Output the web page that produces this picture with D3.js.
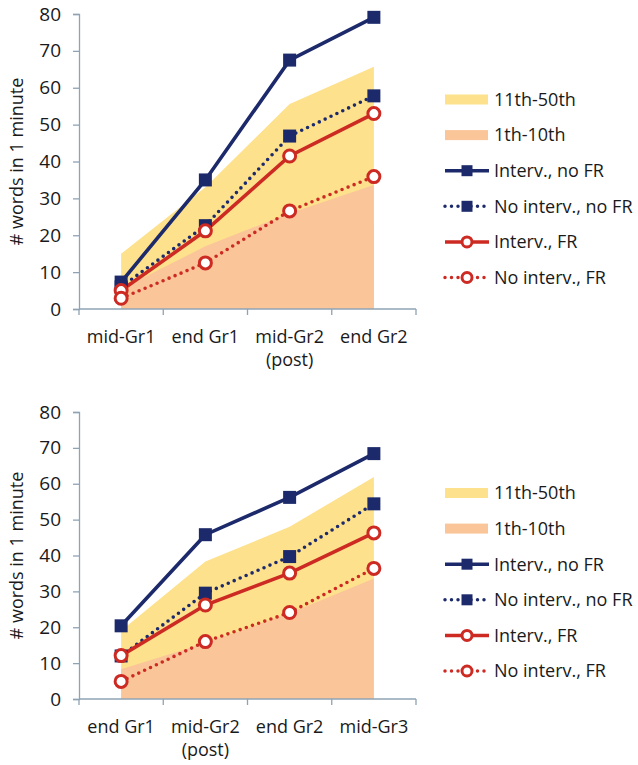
<!DOCTYPE html>
<html>
<head>
<meta charset="utf-8">
<script src="https://cdn.jsdelivr.net/npm/d3@7"></script>
<style>
  body { margin: 0; background: #fff; }
  svg text { font-family: "Open Sans", sans-serif; fill: #1a1a1a; }
</style>
</head>
<body>
<div id="main"></div>
<script>
// panel 1 data
var cats1 = [['mid-Gr1'], ['end Gr1'], ['mid-Gr2', '(post)'], ['end Gr2']];
var band1Top = [15, 33, 55.6, 65.7];     // 11th-50th upper edge
var band1Low = [5.5, 17, 26, 33.6];      // 1th-10th upper edge
var intervNoFR1 = [7.3, 35, 67.5, 79.1];
var noIntervNoFR1 = [6, 22.6, 46.9, 57.8];
var intervFR1 = [5, 21.2, 41.5, 53];
var noIntervFR1 = [2.9, 12.5, 26.6, 35.9];

// panel 2 data
var cats2 = [['end Gr1'], ['mid-Gr2', '(post)'], ['end Gr2'], ['mid-Gr3']];
var band2Top = [19, 38.3, 48, 61.9];
var band2Low = [8.3, 15.6, 23.9, 33.6];
var intervNoFR2 = [20.4, 45.8, 56.2, 68.4];
var noIntervNoFR2 = [12, 29.5, 39.7, 54.4];
var intervFR2 = [12.1, 26.2, 35.1, 46.3];
var noIntervFR2 = [4.9, 16, 24.1, 36.4];

var yTicks = [0, 10, 20, 30, 40, 50, 60, 70, 80];
var legendLabels = ['11th-50th', '1th-10th', 'Interv., no FR', 'No interv., no FR', 'Interv., FR', 'No interv., FR'];

var navy = '#1c2a6b', red = '#cc2a22', yellow = '#fde18c', orange = '#fbc59a', axisCol = '#8fa3b5';

var svg = d3.select('#main').append('svg')
    .attr('width', 638)
    .attr('height', 765);

function drawPanel(top, bottom, cats, bandTop, bandLow, series, legendTop) {
    var g = svg.append('g');
    var x = d3.scaleBand().domain(d3.range(cats.length)).range([79, 416]);
    var y = d3.scaleLinear().domain([0, 80]).range([bottom, top]);
    var cx = function (i) { return x(i) + x.bandwidth() / 2; };

    // bands (area from 0)
    var area = d3.area()
        .x(function (d, i) { return cx(i); })
        .y0(y(0))
        .y1(function (d) { return y(d); });
    g.append('path').attr('d', area(bandTop)).attr('fill', yellow);
    g.append('path').attr('d', area(bandLow)).attr('fill', orange);

    // axes
    var yAxis = d3.axisLeft(y).tickValues(yTicks).tickSize(6).tickPadding(12);
    var yG = g.append('g').attr('transform', 'translate(79,0)').call(yAxis);
    yG.select('.domain').attr('stroke', axisCol).attr('stroke-width', 1.3);
    yG.selectAll('.tick line').attr('stroke', axisCol).attr('stroke-width', 1.3);
    yG.selectAll('.tick text').attr('font-size', 19).attr('fill', '#1a1a1a')
        .style('font-family', '"Open Sans", sans-serif');

    var xG = g.append('g').attr('transform', 'translate(0,' + bottom + ')');
    xG.append('line').attr('x1', 79).attr('x2', 416)
        .attr('stroke', axisCol).attr('stroke-width', 1.3);
    xG.selectAll('.xt').data(d3.range(cats.length + 1)).enter().append('line')
        .attr('x1', function (d) { return d < cats.length ? x(d) : 416; })
        .attr('x2', function (d) { return d < cats.length ? x(d) : 416; })
        .attr('y1', 0).attr('y2', 6)
        .attr('stroke', axisCol).attr('stroke-width', 1.3);
    // each label line is its own text, so the two lines stay apart
    cats.forEach(function (lines, i) {
        lines.forEach(function (t, j) {
            xG.append('text')
                .attr('text-anchor', 'middle')
                .attr('font-size', 18)
                .attr('x', cx(i))
                .attr('y', 34 + j * 22.5)
                .text(t);
        });
    });

    // y title
    g.append('text')
        .attr('transform', 'translate(23,' + ((top + bottom) / 2) + ') rotate(-90)')
        .attr('text-anchor', 'middle')
        .attr('font-size', 18)
        .text('# words in 1 minute');

    // lines
    var line = d3.line()
        .x(function (d, i) { return cx(i); })
        .y(function (d) { return y(d); });
    series.forEach(function (s) {
        g.append('path').attr('d', line(s.values))
            .attr('fill', 'none')
            .attr('stroke', s.color)
            .attr('stroke-width', 3.6)
            .attr('stroke-linecap', s.dotted ? 'round' : 'butt')
            .attr('stroke-dasharray', s.dotted ? '0 6.5' : null);
    });
    series.forEach(function (s) {
        s.values.forEach(function (v, i) {
            drawMarker(g, s, cx(i), y(v), 13);
        });
    });

    // legend
    var items = [
        { type: 'rect', color: yellow },
        { type: 'rect', color: orange }
    ].concat(series.map(function (s) { return { type: 'line', s: s }; }));
    items.forEach(function (it, i) {
        var ly = legendTop + i * 35.6;
        if (it.type === 'rect') {
            g.append('rect').attr('x', 445).attr('y', ly - 5).attr('width', 43).attr('height', 10)
                .attr('fill', it.color);
        } else {
            g.append('line').attr('x1', 445).attr('x2', 489).attr('y1', ly).attr('y2', ly)
                .attr('stroke', it.s.color).attr('stroke-width', 3.5)
                .attr('stroke-linecap', it.s.dotted ? 'round' : 'butt')
                .attr('stroke-dasharray', it.s.dotted ? '0 6.5' : null);
            drawMarker(g, it.s, 467, ly, 11);
        }
        g.append('text').attr('x', 494).attr('y', ly).attr('dy', '0.35em')
            .attr('font-size', 18)
            .text(legendLabels[i]);
    });
}

function drawMarker(g, s, px, py, size) {
    if (s.marker === 'square') {
        g.append('rect').attr('x', px - size / 2).attr('y', py - size / 2)
            .attr('width', size).attr('height', size).attr('fill', s.color);
    } else {
        g.append('circle').attr('cx', px).attr('cy', py).attr('r', size / 2 - 0.5)
            .attr('fill', '#fff').attr('stroke', s.color).attr('stroke-width', 3);
    }
}

function makeSeries(a, b, c, d) {
    return [
        { values: a, color: navy, marker: 'square', dotted: false },
        { values: b, color: navy, marker: 'square', dotted: true },
        { values: c, color: red, marker: 'circle', dotted: false },
        { values: d, color: red, marker: 'circle', dotted: true }
    ];
}

drawPanel(14, 309, cats1, band1Top, band1Low,
    makeSeries(intervNoFR1, noIntervNoFR1, intervFR1, noIntervFR1), 99.5);
drawPanel(412, 699, cats2, band2Top, band2Low,
    makeSeries(intervNoFR2, noIntervNoFR2, intervFR2, noIntervFR2), 493);
</script>
</body>
</html>
